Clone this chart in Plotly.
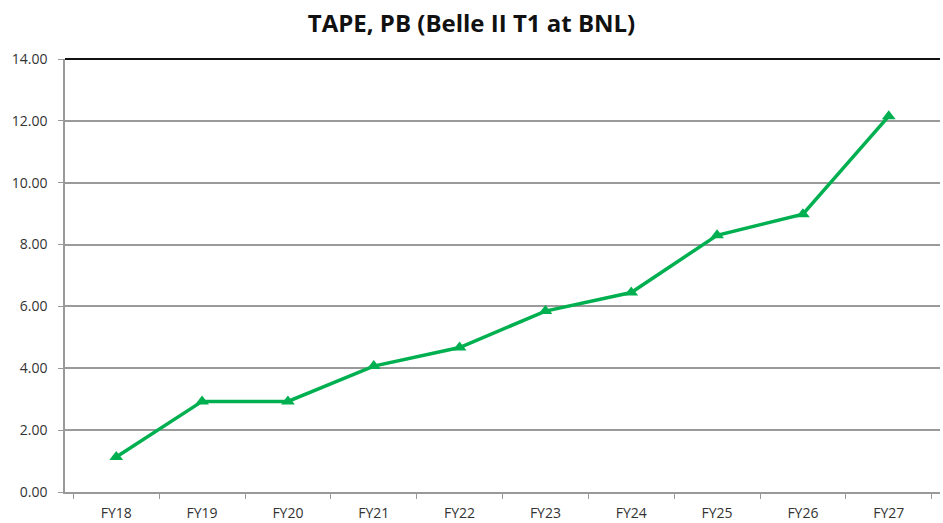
import plotly.graph_objects as go

categories = ["FY18", "FY19", "FY20", "FY21", "FY22", "FY23", "FY24", "FY25", "FY26", "FY27"]
tape_pb = [1.13, 2.93, 2.93, 4.07, 4.67, 5.85, 6.45, 8.30, 8.98, 12.15]

fig = go.Figure()
fig.add_trace(go.Scatter(
    x=categories, y=tape_pb, mode="lines+markers",
    line=dict(color="#00B050", width=3.5),
    marker=dict(symbol="triangle-up", size=12, color="#00B050"),
    cliponaxis=False, showlegend=False,
))

fig.update_layout(
    width=943, height=523,
    margin=dict(l=65, r=3, t=59, b=31),
    paper_bgcolor="white", plot_bgcolor="white",
    title=dict(text="<b>TAPE, PB (Belle II T1 at BNL)</b>", x=0.5, xanchor="center",
               y=0.955, yanchor="middle",
               font=dict(family="Open Sans", size=24, color="#111111")),
    font=dict(family="Open Sans", size=14, color="#333333"),
)
fig.update_xaxes(
    type="category", tickson="boundaries", ticks="outside", ticklen=5,
    tickcolor="#999999", showline=True, linecolor="#999999", linewidth=1.5,
    showgrid=False, tickfont=dict(size=14, color="#333333"), ticklabelstandoff=7,
    automargin=False,
)
fig.update_yaxes(
    range=[0, 14], dtick=2, tickformat=".2f", ticks="outside", ticklen=5,
    tickcolor="#999999", showline=True, linecolor="#999999", linewidth=1.5,
    showgrid=True, gridcolor="#9a9a9a", gridwidth=1.5, zeroline=False,
    tickfont=dict(size=14, color="#333333"), ticklabelstandoff=8,
    automargin=False,
)
fig.add_shape(type="line", xref="paper", yref="paper", x0=0, x1=1, y0=1, y1=1,
              line=dict(color="#111111", width=2))

fig.write_html("out.html", config={"displayModeBar": False},
               post_script="document.body.style.margin='0';document.body.style.overflow='hidden';")
